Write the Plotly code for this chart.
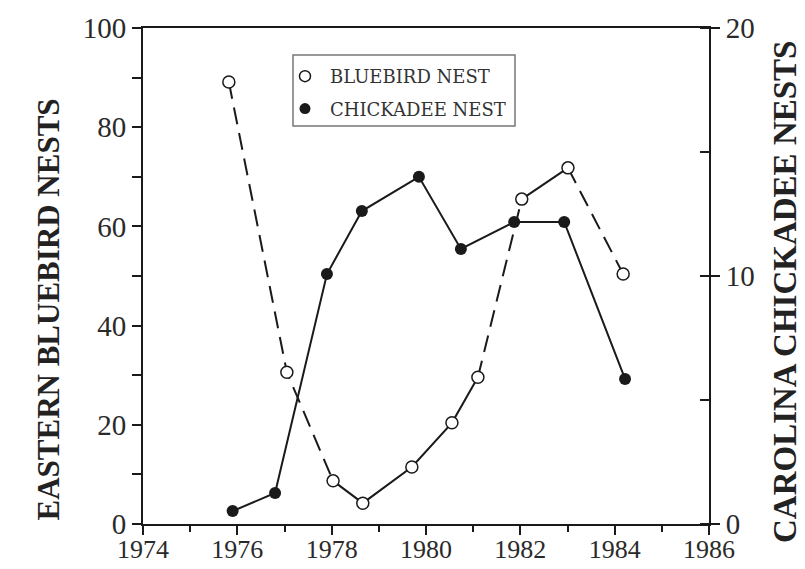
import plotly.graph_objects as go

# ---- data ----
blue_years = [1975.82, 1977.05, 1978.03, 1978.66, 1979.70, 1980.55, 1981.10, 1982.03, 1983.01, 1984.18]
blue_nests = [89.1, 30.6, 8.7, 4.2, 11.5, 20.4, 29.6, 65.5, 71.8, 50.4]
# segment style between consecutive bluebird points (True = dashed)
blue_dashed = [True, True, False, False, False, False, True, False, True]

chick_years = [1975.90, 1976.80, 1977.90, 1978.64, 1979.85, 1980.74, 1981.87, 1982.93, 1984.22]
chick_nests = [0.52, 1.25, 10.08, 12.62, 14.0, 11.09, 12.18, 12.18, 5.85]

x_ticks = [1974, 1976, 1978, 1980, 1982, 1984, 1986]
y_left_ticks = [0, 20, 40, 60, 80, 100]
y_right_ticks = [0, 10, 20]

FONT = "Liberation Serif, Times New Roman, serif"
BLACK = "#1a1a1a"

# page body has an 8px default margin; compensate so the plot area lands at
# x 143..709, y 28..524 in the screenshot
OFF = 8
PL, PR, PT, PB = 143, 709, 28, 524
PW, PH = PR - PL, PB - PT


def px(xp):
    return (xp - PL) / PW


def py(yp):
    return 1 - (yp - PT) / PH


fig = go.Figure()

# bluebird line segments (dashed / solid)
i = 0
n = len(blue_dashed)
while i < n:
    j = i
    while j + 1 < n and blue_dashed[j + 1] == blue_dashed[i]:
        j += 1
    fig.add_trace(go.Scatter(
        x=blue_years[i:j + 2], y=blue_nests[i:j + 2], mode="lines",
        line=dict(color=BLACK, width=2, dash="17px,9px" if blue_dashed[i] else "solid"),
        showlegend=False, hoverinfo="skip"))
    i = j + 1

# chickadee line
fig.add_trace(go.Scatter(
    x=chick_years, y=chick_nests, mode="lines+markers", yaxis="y2",
    line=dict(color=BLACK, width=2),
    marker=dict(symbol="circle", size=12, color=BLACK),
    showlegend=False))

# bluebird markers
fig.add_trace(go.Scatter(
    x=blue_years, y=blue_nests, mode="markers",
    marker=dict(symbol="circle", size=12, color="white", line=dict(color=BLACK, width=1.5)),
    showlegend=False))

# legend entries
fig.add_trace(go.Scatter(
    x=[None], y=[None], mode="markers", name="BLUEBIRD NEST", legendgroup="a",
    marker=dict(symbol="circle-open", size=11, color=BLACK, line=dict(width=1.5))))
fig.add_trace(go.Scatter(
    x=[None], y=[None], mode="markers", name="CHICKADEE NEST", legendgroup="b",
    marker=dict(symbol="circle", size=11, color=BLACK)))

axis_common = dict(
    showline=True, linecolor=BLACK, linewidth=2, ticks="outside", tickcolor=BLACK,
    tickwidth=2, ticklen=9, showgrid=False, zeroline=False, automargin=False,
)

fig.update_layout(
    width=805, height=569,
    margin=dict(l=PL - OFF, r=805 - PR + OFF, t=PT - OFF, b=569 - PB + OFF, autoexpand=False),
    paper_bgcolor="white", plot_bgcolor="white",
    showlegend=True,
    legend=dict(
        x=px(280), y=py(58), xanchor="left", yanchor="top",
        bgcolor="rgba(0,0,0,0)", borderwidth=0,
        font=dict(family="DejaVu Serif, serif", size=18, color="#333333"),
        tracegroupgap=6, traceorder="grouped", itemwidth=40,
    ),
    xaxis=dict(
        **axis_common, range=[1974, 1986], tickvals=x_ticks,
        ticktext=[str(v) for v in x_ticks], mirror=True,
        tickfont=dict(family=FONT, size=26, color="#2a2a2a"),
        ticklabelstandoff=-8,
        minor=dict(dtick=1, tick0=1974, ticks="outside", ticklen=6, tickcolor=BLACK, tickwidth=2),
    ),
    yaxis=dict(
        **axis_common, range=[0, 100], tickvals=y_left_ticks,
        ticktext=[str(v) for v in y_left_ticks],
        tickfont=dict(family=FONT, size=29, color="#2a2a2a"),
        minor=dict(dtick=10, tick0=0, ticks="outside", ticklen=9, tickcolor=BLACK, tickwidth=2),
    ),
    yaxis2=dict(
        **axis_common,
        overlaying="y", side="right", range=[0, 20], tickvals=y_right_ticks,
        ticktext=[str(v) for v in y_right_ticks],
        tickfont=dict(family=FONT, size=29, color="#2a2a2a"),
        minor=dict(dtick=5, tick0=0, ticks="inside", ticklen=9, tickcolor=BLACK, tickwidth=2),
    ),
    shapes=[dict(type="rect", xref="paper", yref="paper",
                 x0=px(293), x1=px(515), y0=py(126), y1=py(55),
                 line=dict(color="#777777", width=1.5), fillcolor="rgba(0,0,0,0)")],
    annotations=[
        dict(text="<b>EASTERN BLUEBIRD NESTS</b>", textangle=-90, xref="paper", yref="paper",
             x=px(28), y=py(310), showarrow=False,
             font=dict(family=FONT, size=31, color="#222222")),
        dict(text="<b>CAROLINA CHICKADEE NESTS</b>", textangle=-90, xref="paper", yref="paper",
             x=px(805), y=py(292), showarrow=False,
             font=dict(family=FONT, size=33, color="#222222")),
    ],
)

fig.write_html("out.html")
